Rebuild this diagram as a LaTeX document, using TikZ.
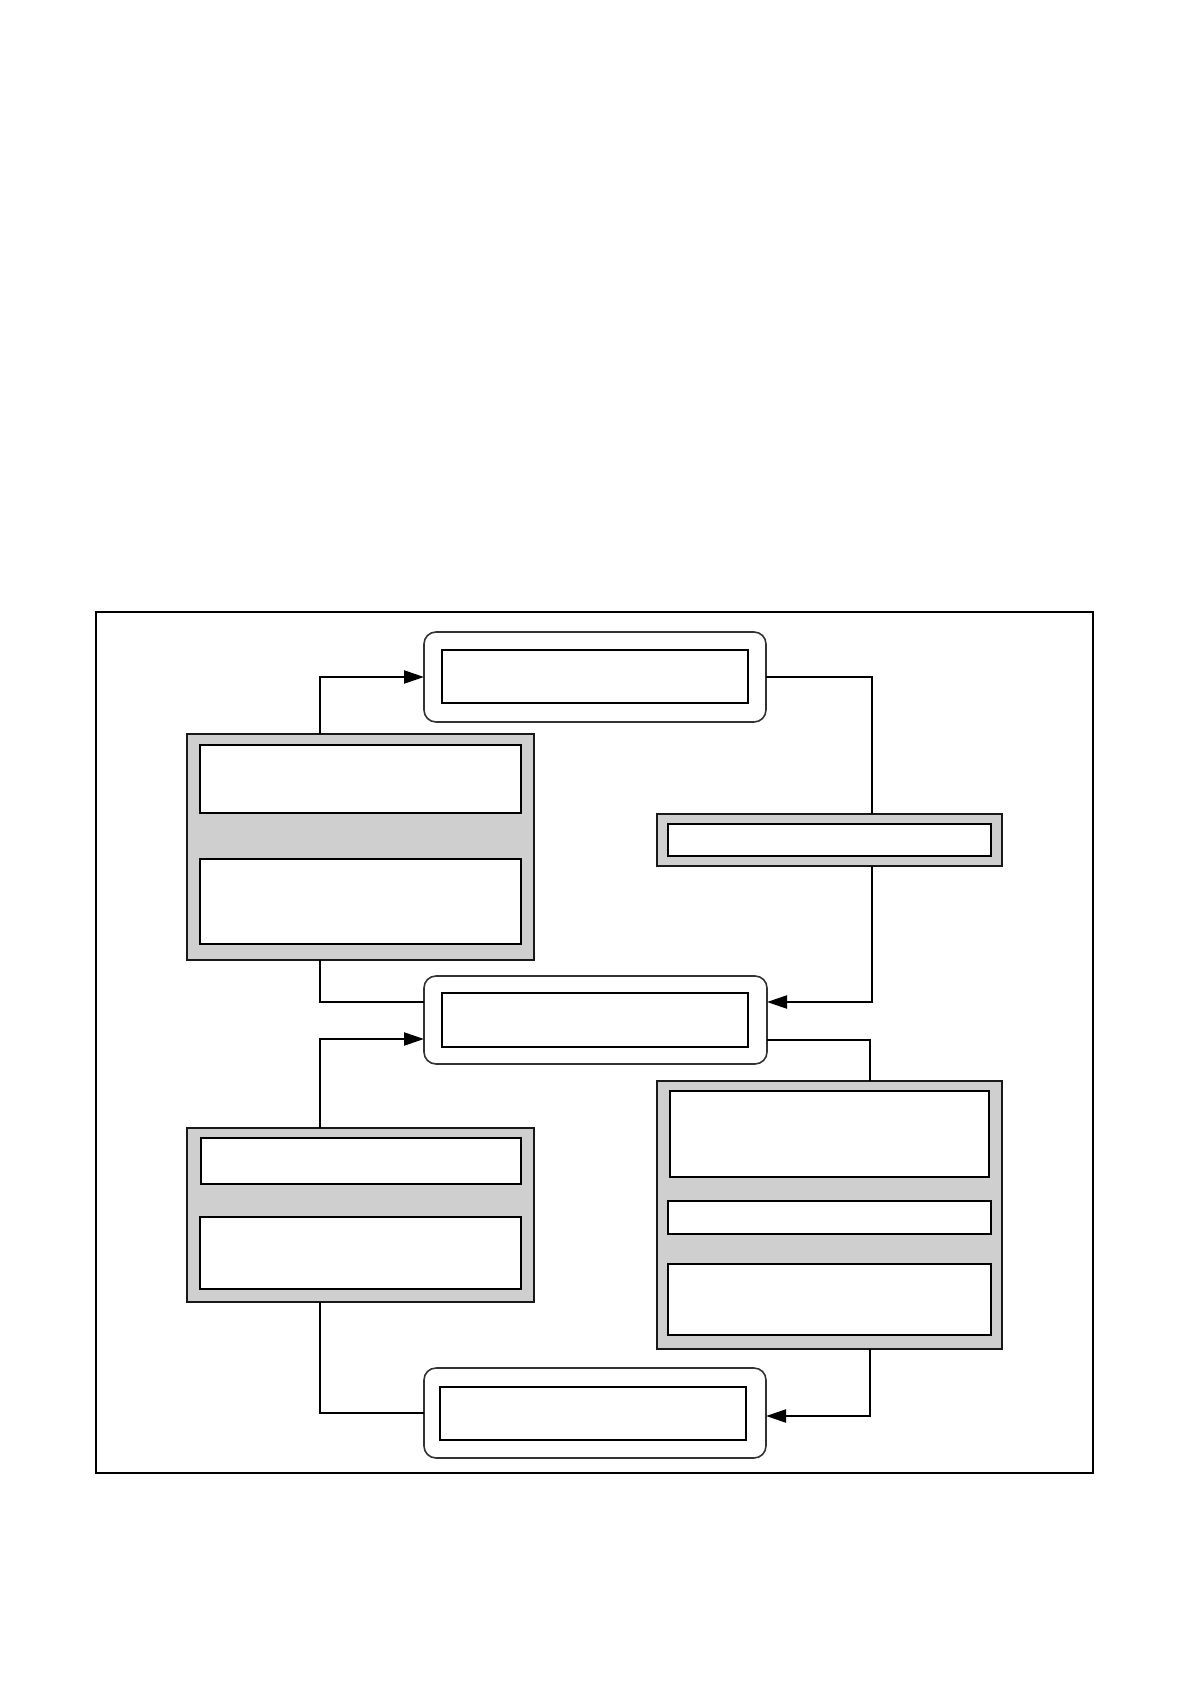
\documentclass[tikz,border=0pt]{standalone}
\usetikzlibrary{arrows.meta,calc}
\definecolor{boxgray}{HTML}{CFCFCF}
\newcommand\pbox[6][]{\node[#1, minimum width={(#5-#3)*0.5pt}, minimum height={(#6-#4)*0.5pt}] (#2) at ({(#3+#5)/2},{(#4+#6)/2}) {};}
\begin{document}
\begin{tikzpicture}[x=0.5pt,y=-0.5pt,
  every node/.style={inner sep=0pt, outer sep=0pt},
  framebox/.style={draw=black, line width=0.6pt, rectangle},
  graybox/.style={draw=black!90, fill=boxgray, line width=0.8pt, rectangle},
  whitebox/.style={draw=black, fill=white, line width=0.8pt, rectangle},
  roundbox/.style={draw=black!80, fill=white, line width=0.8pt, rectangle, rounded corners=6pt},
  conn/.style={draw=black, line width=1.1pt},
  arr/.style={conn, -{Triangle[length=10pt,width=6.5pt]}}]
\useasboundingbox (0,0) rectangle (1191,1684);
\pbox[framebox]{frame}{96}{612}{1093}{1473}
% top rounded
\pbox[roundbox]{T}{424}{632}{766}{722}
\pbox[whitebox]{Ti}{442}{650}{748}{703}
% left gray 1
\pbox[graybox]{L1}{187}{734}{534}{960}
\pbox[whitebox]{L1a}{200}{745}{521}{813}
\pbox[whitebox]{L1b}{200}{859}{521}{944}
% right small gray
\pbox[graybox]{R1}{657}{814}{1002}{866}
\pbox[whitebox]{R1a}{668}{824}{991}{856}
% middle rounded
\pbox[roundbox]{M}{424}{976}{767}{1064}
\pbox[whitebox]{Mi}{442}{993}{748}{1047}
% left gray 2
\pbox[graybox]{L2}{187}{1128}{534}{1302}
\pbox[whitebox]{L2a}{201}{1138}{521}{1184}
\pbox[whitebox]{L2b}{200}{1217}{521}{1289}
% right big gray
\pbox[graybox]{R2}{657}{1081}{1002}{1349}
\pbox[whitebox]{R2a}{670}{1091}{989}{1177}
\pbox[whitebox]{R2b}{668}{1201}{991}{1234}
\pbox[whitebox]{R2c}{668}{1264}{991}{1335}
% bottom rounded
\pbox[roundbox]{B}{424}{1368}{766}{1458}
\pbox[whitebox]{Bi}{440}{1387}{746}{1440}
% guide coordinates
\coordinate (lx) at (320,0);
\coordinate (rx) at (872,0);
\coordinate (rx2) at (870,0);
% connectors
\draw[arr] (L1.north -| lx) |- (T.west);
\draw[conn] (T.east) -| (R1.north -| rx);
\draw[arr] (R1.south -| rx) |- ([yshift=9pt]M.east);
\draw[conn] (L1.south -| lx) |- ([yshift=9pt]M.west);
\draw[arr] (L2.north -| lx) |- ([yshift=-9.5pt]M.west);
\draw[conn] ([yshift=-10pt]M.east) -| (R2.north -| rx2);
\draw[arr] (R2.south -| rx2) |- ([yshift=-1.5pt]B.east);
\draw[conn] (L2.south -| lx) |- (B.west);
\end{tikzpicture}
\end{document}
